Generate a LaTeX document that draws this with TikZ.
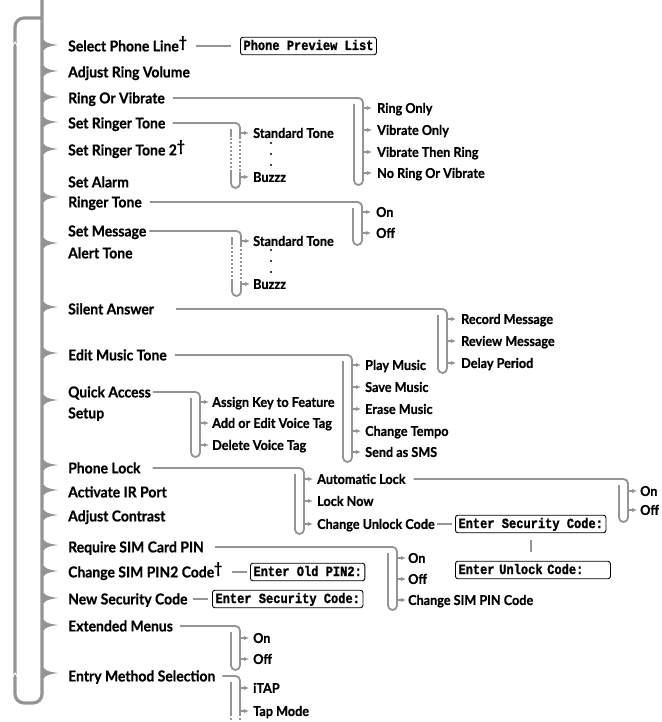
\documentclass[tikz,border=0pt]{standalone}
\usepackage{fontspec}
\setmainfont{Lato}[FakeStretch=0.93, BoldFeatures={FakeBold=0.6}]
\newfontfamily\lcdfont{Liberation Mono}[FakeStretch=0.86, BoldFeatures={FakeBold=1.4}]
\usetikzlibrary{arrows.meta, calc}
\definecolor{menugray}{RGB}{148,148,150}

\begin{document}
\begin{tikzpicture}[x=1pt, y=-1pt,
    every node/.style={inner sep=0pt},
    item/.style={anchor=west, font=\bfseries\fontsize{15}{17}\selectfont, text height=12.8pt, text depth=2pt},
    subitem/.style={anchor=west, font=\bfseries\fontsize{13.6}{15}\selectfont, text height=11.5pt, text depth=1.6pt},
    lcd/.style={anchor=west, draw=black, line width=0.9pt, rounded corners=2.5pt, font=\lcdfont\bfseries\fontsize{14}{16}\selectfont, inner xsep=3pt, minimum height=17.5pt, text height=9.5pt, text depth=1.5pt},
    link/.style={draw=menugray, line width=1.6pt},
    brace/.style={draw=menugray, line width=1.8pt, rounded corners=4.5pt},
    spine/.style={draw=menugray, line width=3.2pt, rounded corners=9pt},
    tick/.style={draw=menugray, line width=1.3pt, -{Latex[length=5pt, width=4.5pt]}},
    gap/.style={draw=menugray, line width=1.4pt, dash pattern=on 2pt off 2pt}
]
\useasboundingbox (0,0) rectangle (661,722);

% main menu items
\node[item] (sel) at (68,46) {Select Phone Line\raisebox{4pt}{\dag}};
\node[item] (vol) at (68,72) {Adjust Ring Volume};
\node[item] (ringvib) at (68,98) {Ring Or Vibrate};
\node[item] (tone) at (68,123) {Set Ringer Tone};
\node[item] (tonetwo) at (68,150) {Set Ringer Tone 2\raisebox{4pt}{\dag}};
\node[item] (alarm) at (68,182) {Set Alarm};
\node[item] (alarmtone) at (68,202) {Ringer Tone};
\node[item] (msg) at (68,231) {Set Message};
\node[item] (msgtone) at (68,253) {Alert Tone};
\node[item] (silent) at (68,309) {Silent Answer};
\node[item] (music) at (68,355) {Edit Music Tone};
\node[item] (quick) at (68,392) {Quick Access};
\node[item] (setup) at (68,413) {Setup};
\node[item] (lock) at (68,468) {Phone Lock};
\node[item] (irport) at (68,492) {Activate IR Port};
\node[item] (contrast) at (68,516) {Adjust Contrast};
\node[item] (simpin) at (68,547) {Require SIM Card PIN};
\node[item] (pintwo) at (68,572) {Change SIM PIN2 Code\raisebox{4pt}{\dag}};
\node[item] (newsec) at (68,599) {New Security Code};
\node[item] (extmenu) at (68,626) {Extended Menus};
\node[item] (entry) at (68,676) {Entry Method Selection};

% main spine with its markers
\draw[spine] (42,0) -- (42,703) -- (15,703) -- (15,18) -- (42,18);
\foreach \y in {45,71,97,122,149,197,243,307,353,400,465,490,515,545,571,598,625,673}
  \fill[menugray] (41,\y-10) .. controls (43,\y-3) and (47,\y-1.5) .. (58,\y) .. controls (47,\y+1.5) and (43,\y+3) .. (41,\y+10) -- cycle;
\draw[white, line width=0.9pt] (12,47) -- (15,42) -- (18,47);
\draw[white, line width=0.9pt] (12,678) -- (15,673) -- (18,678);

% display boxes
\node[lcd] (preview) at (240,46) {Phone Preview List};
\node[lcd] (oldpin) at (250,572) {Enter Old PIN2:};
\node[lcd] (newcode) at (212,599) {Enter Security Code:};
\draw[link] ([xshift=9pt]sel.east) -- ([xshift=-9pt]preview.west);
\draw[link] ([xshift=10pt]pintwo.east) -- ([xshift=-3pt]oldpin.west);
\draw[link] ([xshift=5pt]newsec.east) -- ([xshift=-4pt]newcode.west);

% Ring Or Vibrate
\node[subitem] (ringonly) at (377,108) {Ring Only};
\node[subitem] (vibonly) at (377,130) {Vibrate Only};
\node[subitem] (vibring) at (377,152) {Vibrate Then Ring};
\node[subitem] (noring) at (377,173) {No Ring Or Vibrate};
\draw[brace] ([xshift=8pt]ringvib.east) -- (363,98) -- (363,185) -- (354,185) -- (354,104);
\foreach \n in {ringonly,vibonly,vibring,noring}
  \draw[tick] ([xshift=-14pt]\n.west) -- ([xshift=-5pt]\n.west);

% Set Ringer Tone
\node[subitem] (stdtone) at (253,133) {Standard Tone};
\node[subitem] (buzzz) at (253,177) {Buzzz};
\draw[brace] ([xshift=7pt]tone.east) -- (240,123) -- (240,137);
\draw[gap] (240,137) -- (240,172) (231,172) -- (231,137);
\draw[brace] (240,172) -- (240,188) -- (231,188) -- (231,172);
\draw[brace] (231,137) -- (231,129);
\foreach \d in {143,154,165} \fill (271,\d) circle (1.2pt);
\foreach \n in {stdtone,buzzz}
  \draw[tick] ([xshift=-13pt]\n.west) -- ([xshift=-4pt]\n.west);

% Set Alarm Ringer Tone
\node[subitem] (alarmon) at (376,212) {On};
\node[subitem] (alarmoff) at (376,233) {Off};
\draw[brace] ([xshift=8pt]alarmtone.east) -- (362,202) -- (362,245) -- (353,245) -- (353,208);
\foreach \n in {alarmon,alarmoff}
  \draw[tick] ([xshift=-14pt]\n.west) -- ([xshift=-5pt]\n.west);

% Set Message Alert Tone
\node[subitem] (msgstd) at (253,241) {Standard Tone};
\node[subitem] (msgbuzzz) at (253,284) {Buzzz};
\draw[brace] ([xshift=3pt]msg.east) -- (241,231) -- (241,245);
\draw[gap] (241,245) -- (241,281) (232,281) -- (232,245);
\draw[brace] (241,281) -- (241,296) -- (232,296) -- (232,281);
\draw[brace] (232,245) -- (232,237);
\foreach \d in {250,261,272} \fill (271,\d) circle (1.2pt);
\foreach \n in {msgstd,msgbuzzz}
  \draw[tick] ([xshift=-12pt]\n.west) -- ([xshift=-3pt]\n.west);

% Silent Answer
\node[subitem] (record) at (461,319) {Record Message};
\node[subitem] (review) at (461,341) {Review Message};
\node[subitem] (delay) at (461,363) {Delay Period};
\draw[brace] ([xshift=22pt]silent.east) -- (447,309) -- (447,373) -- (438,373) -- (438,315);
\foreach \n in {record,review,delay}
  \draw[tick] ([xshift=-14pt]\n.west) -- ([xshift=-5pt]\n.west);

% Edit Music Tone
\node[subitem] (play) at (365,365) {Play Music};
\node[subitem] (save) at (365,387) {Save Music};
\node[subitem] (erase) at (365,409) {Erase Music};
\node[subitem] (tempo) at (365,431) {Change Tempo};
\node[subitem] (sms) at (365,452) {Send as SMS};
\draw[brace] ([xshift=8pt]music.east) -- (352,355) -- (352,462) -- (343,462) -- (343,361);
\foreach \n in {play,save,erase,tempo,sms}
  \draw[tick] ([xshift=-13pt]\n.west) -- ([xshift=-4pt]\n.west);

% Quick Access Setup
\node[subitem] (assign) at (212,402) {Assign Key to Feature};
\node[subitem] (voicetag) at (212,423) {Add or Edit Voice Tag};
\node[subitem] (deltag) at (212,445) {Delete Voice Tag};
\draw[brace] ([xshift=2pt]quick.east) -- (200,392) -- (200,457) -- (191,457) -- (191,398);
\foreach \n in {assign,voicetag,deltag}
  \draw[tick] ([xshift=-12pt]\n.west) -- ([xshift=-3pt]\n.west);

% Phone Lock
\node[subitem] (autolock) at (317,479) {Automatic Lock};
\node[subitem] (locknow) at (317,501) {Lock Now};
\node[subitem] (chunlock) at (317,524) {Change Unlock Code};
\draw[brace] ([xshift=12pt]lock.east) -- (304,468) -- (304,534) -- (295,534) -- (295,474);
\foreach \n in {autolock,locknow,chunlock}
  \draw[tick] ([xshift=-13pt]\n.west) -- ([xshift=-4pt]\n.west);

% Automatic Lock
\node[subitem] (lockon) at (640,491) {On};
\node[subitem] (lockoff) at (640,510) {Off};
\draw[brace] ([xshift=8pt]autolock.east) -- (628,479) -- (628,522) -- (619,522) -- (619,485);
\foreach \n in {lockon,lockoff}
  \draw[tick] ([xshift=-12pt]\n.west) -- ([xshift=-3pt]\n.west);

% Change Unlock Code
\node[lcd] (seccode) at (455,524) {Enter Security Code:};
\node[lcd, text width=149pt] (unlockcode) at (455,570) {Enter Unlock Code:};
\draw[link] ([xshift=2pt]chunlock.east) -- ([xshift=-3pt]seccode.west);
\draw[link, shorten <=7pt, shorten >=9pt] (seccode.south) -- (seccode.south |- unlockcode.north);

% Require SIM Card PIN
\node[subitem] (pinon) at (408,558) {On};
\node[subitem] (pinoff) at (408,579) {Off};
\node[subitem] (chpin) at (408,600) {Change SIM PIN Code};
\draw[brace] ([xshift=11pt]simpin.east) -- (397,547) -- (397,610) -- (388,610) -- (388,553);
\foreach \n in {pinon,pinoff,chpin}
  \draw[tick] ([xshift=-11pt]\n.west) -- ([xshift=-2pt]\n.west);

% Extended Menus
\node[subitem] (exton) at (253,638) {On};
\node[subitem] (extoff) at (253,659) {Off};
\draw[brace] ([xshift=7pt]extmenu.east) -- (240,626) -- (240,670) -- (231,670) -- (231,632);
\foreach \n in {exton,extoff}
  \draw[tick] ([xshift=-13pt]\n.west) -- ([xshift=-4pt]\n.west);

% Entry Method Selection
\node[subitem] (itap) at (253,688) {iTAP};
\node[subitem] (tapmode) at (253,711) {Tap Mode};
\draw[brace] ([xshift=7pt]entry.east) -- (240,676) -- (240,714);
\draw[brace] (231,682) -- (231,714);
\draw[gap] (240,714) -- (240,722) (231,714) -- (231,722);
\foreach \n in {itap,tapmode}
  \draw[tick] ([xshift=-13pt]\n.west) -- ([xshift=-4pt]\n.west);

\end{tikzpicture}
\end{document}
